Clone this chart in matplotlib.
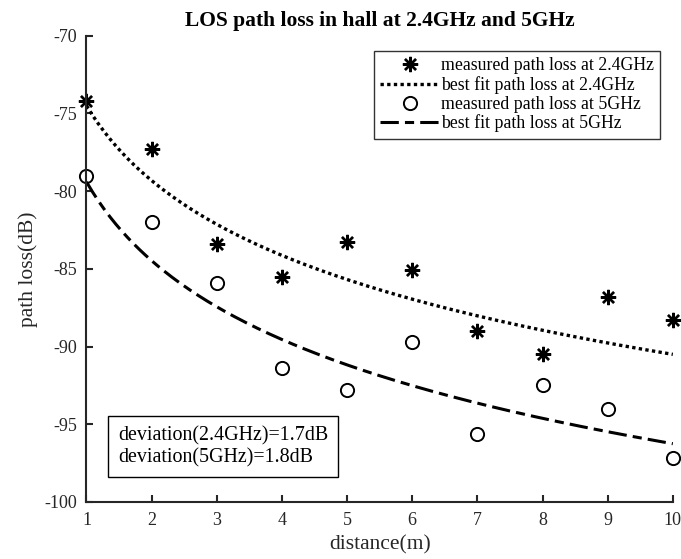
import numpy as np
import matplotlib
matplotlib.use('Agg')
import matplotlib.pyplot as plt

plt.rcParams['font.family'] = ['Liberation Serif', 'DejaVu Serif']
plt.rcParams['axes.unicode_minus'] = False

# measured path loss (dB) at each distance (m)
distance = [1, 2, 3, 4, 5, 6, 7, 8, 9, 10]
pl_24 = [-74.2, -77.3, -83.4, -85.5, -83.3, -85.1, -89.0, -90.5, -86.8, -88.3]
pl_5 = [-79.0, -82.0, -85.9, -91.4, -92.8, -89.7, -95.6, -92.5, -94.0, -97.2]

# best fit: PL(d) = PL0 - 10 n log10(d)
fit_pl0_24, fit_10n_24 = -74.5, 16.0
fit_pl0_5, fit_10n_5 = -79.4, 16.85

d = np.linspace(1, 10, 200)
fit_24 = fit_pl0_24 - fit_10n_24 * np.log10(d)
fit_5 = fit_pl0_5 - fit_10n_5 * np.log10(d)

axis_color = '#262626'

fig = plt.figure(figsize=(6.81, 5.59), dpi=100)
ax = fig.add_axes([0.127, 0.102, 0.861, 0.834])

ax.plot(distance, pl_24, linestyle='none', marker=(8, 2, 0), markersize=11,
        markeredgewidth=1.7, color='black', label='measured path loss at 2.4GHz', clip_on=False)
ax.plot(d, fit_24, linestyle=(0, (1, 1)), linewidth=2.4, color='black',
        label='best fit path loss at 2.4GHz')
ax.plot(distance, pl_5, linestyle='none', marker='o', markersize=9.5,
        markeredgewidth=1.4, markerfacecolor='none', color='black',
        label='measured path loss at 5GHz', clip_on=False)
ax.plot(d, fit_5, linestyle=(0, (6, 2, 3, 2)), linewidth=2.2, color='black',
        label='best fit path loss at 5GHz')

ax.set_xlim(1, 10)
ax.set_ylim(-100, -70)
ax.set_xticks(range(1, 11))
ax.set_yticks(range(-100, -69, 5))

ax.spines['top'].set_visible(False)
ax.spines['right'].set_visible(False)
for s in ['left', 'bottom']:
    ax.spines[s].set_color(axis_color)
    ax.spines[s].set_linewidth(1.5)
ax.tick_params(direction='in', length=5, width=1.5, colors=axis_color,
               labelsize=13, pad=7)

ax.set_title('LOS path loss in hall at 2.4GHz and 5GHz', fontsize=15.5,
             fontweight='bold', pad=7)
ax.set_xlabel('distance(m)', fontsize=15.5, color=axis_color, labelpad=5)
ax.set_ylabel('path loss(dB)', fontsize=15.5, color=axis_color, labelpad=4)

leg = ax.legend(loc='upper right', bbox_to_anchor=(0.978, 0.967), fontsize=12.8,
                frameon=True, fancybox=False, edgecolor='black', borderpad=0.35,
                handlelength=3.3, handletextpad=0.1, labelspacing=0.1,
                borderaxespad=0)
leg.get_frame().set_linewidth(1.0)

ax.text(0.054, 0.119, 'deviation(2.4GHz)=1.7dB\ndeviation(5GHz)=1.8dB',
        transform=ax.transAxes, fontsize=14.4, va='center', ha='left',
        linespacing=1.2,
        bbox=dict(boxstyle='square,pad=0.5', facecolor='white',
                  edgecolor='black', linewidth=1.0))

fig.savefig('out.png', dpi=100)
